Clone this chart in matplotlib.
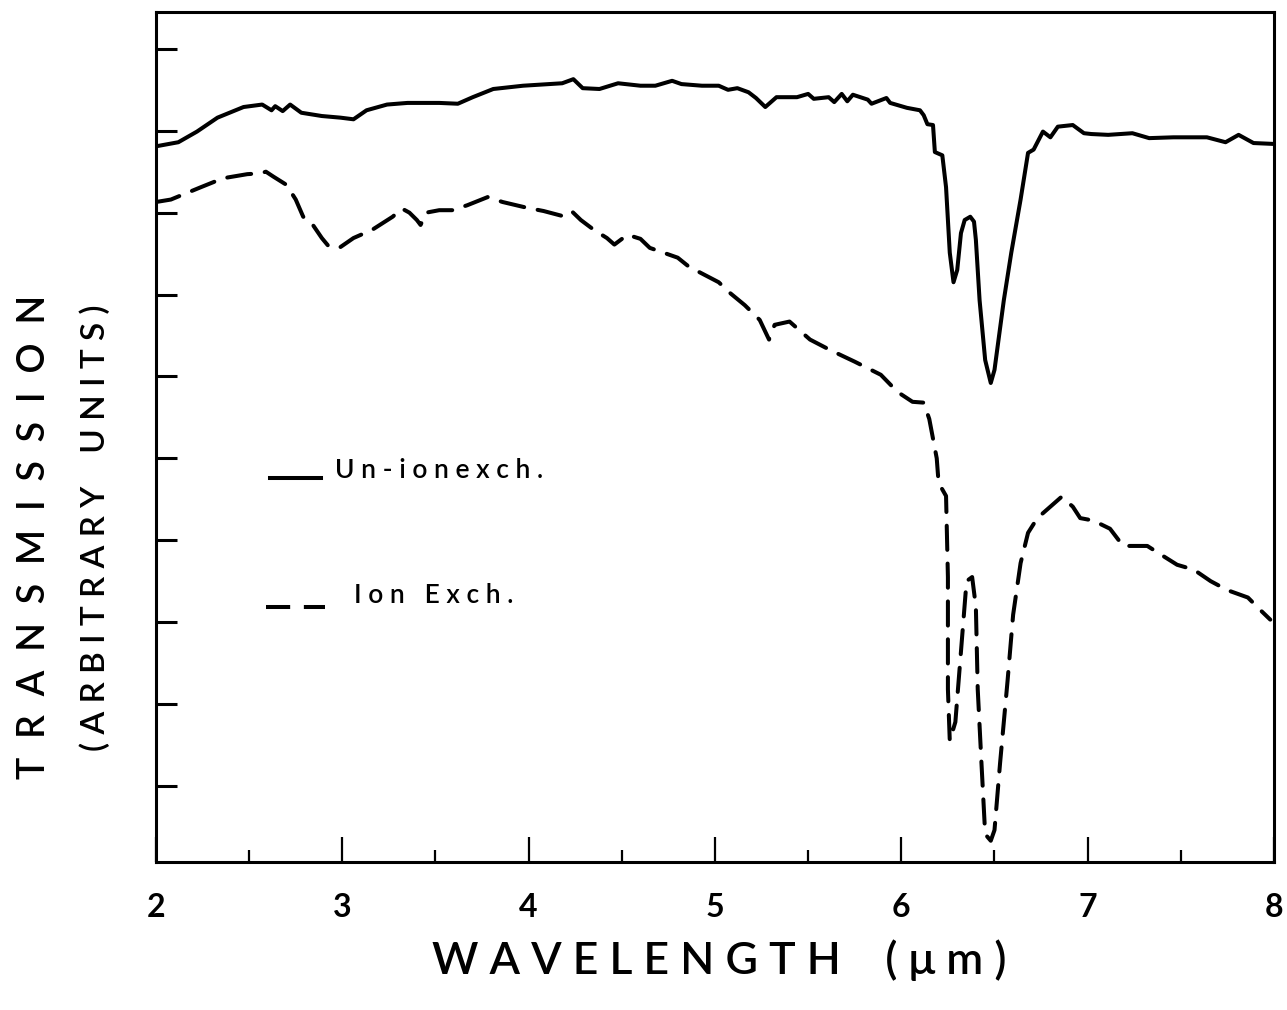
import numpy as np
import matplotlib.pyplot as plt

# wavelength (um) and transmission (arbitrary units)
wl_unex = [2.00, 2.12, 2.22, 2.33, 2.47, 2.57, 2.62, 2.64, 2.68, 2.72,
           2.78, 2.89, 2.99, 3.06, 3.13, 3.24, 3.35, 3.52, 3.62, 3.70,
           3.81, 3.97, 4.18, 4.24, 4.29, 4.38, 4.48, 4.60, 4.68, 4.77,
           4.82, 4.93, 5.02, 5.07, 5.12, 5.18, 5.22, 5.27, 5.33, 5.44,
           5.50, 5.53, 5.61, 5.64, 5.68, 5.71, 5.74, 5.82, 5.84, 5.92,
           5.94, 6.03, 6.10, 6.12, 6.14, 6.17, 6.18, 6.22, 6.24, 6.26,
           6.28, 6.30, 6.32, 6.34, 6.37, 6.39, 6.40, 6.42, 6.45, 6.48,
           6.50, 6.55, 6.59, 6.64, 6.68, 6.71, 6.76, 6.80, 6.84, 6.92,
           6.98, 7.02, 7.11, 7.24, 7.33, 7.46, 7.64, 7.74, 7.81, 7.89, 7.99]
tr_unex = [8.81, 8.86, 8.99, 9.16, 9.29, 9.32, 9.25, 9.30, 9.24, 9.32,
           9.22, 9.18, 9.16, 9.14, 9.25, 9.32, 9.34, 9.34, 9.33, 9.41,
           9.51, 9.55, 9.58, 9.63, 9.52, 9.51, 9.58, 9.55, 9.55, 9.61,
           9.57, 9.55, 9.55, 9.50, 9.52, 9.47, 9.40, 9.29, 9.41, 9.41,
           9.45, 9.39, 9.41, 9.35, 9.45, 9.36, 9.44, 9.38, 9.33, 9.40,
           9.34, 9.28, 9.25, 9.19, 9.08, 9.07, 8.74, 8.70, 8.31, 7.51,
           7.15, 7.30, 7.75, 7.91, 7.95, 7.89, 7.67, 6.93, 6.20, 5.92,
           6.08, 6.93, 7.51, 8.16, 8.73, 8.77, 8.99, 8.92, 9.05, 9.07,
           8.97, 8.96, 8.95, 8.97, 8.91, 8.92, 8.92, 8.86, 8.95, 8.85, 8.84]

wl_ionex = [2.00, 2.08, 2.24, 2.36, 2.49, 2.56, 2.59, 2.63, 2.70, 2.75,
            2.79, 2.83, 2.86, 2.89, 2.93, 2.99, 3.06, 3.16, 3.27, 3.32,
            3.36, 3.40, 3.42, 3.45, 3.52, 3.59, 3.67, 3.78, 3.86, 3.99,
            4.08, 4.18, 4.23, 4.28, 4.35, 4.42, 4.46, 4.53, 4.60, 4.65,
            4.80, 4.86, 5.02, 5.08, 5.16, 5.24, 5.29, 5.32, 5.40, 5.51,
            5.62, 5.75, 5.89, 5.98, 6.06, 6.12, 6.15, 6.19, 6.20, 6.24,
            6.25, 6.25, 6.26, 6.29, 6.32, 6.35, 6.38, 6.40, 6.41, 6.43,
            6.45, 6.48, 6.50, 6.53, 6.57, 6.60, 6.64, 6.68, 6.73, 6.80,
            6.86, 6.92, 6.96, 7.03, 7.12, 7.19, 7.32, 7.41, 7.48, 7.57,
            7.66, 7.75, 7.86, 7.93, 7.98]
tr_ionex = [8.13, 8.16, 8.31, 8.42, 8.47, 8.48, 8.50, 8.44, 8.34, 8.16,
            7.95, 7.89, 7.79, 7.69, 7.58, 7.58, 7.69, 7.79, 7.95, 8.05,
            8.00, 7.91, 7.85, 8.00, 8.03, 8.03, 8.09, 8.19, 8.13, 8.06,
            8.02, 7.96, 8.02, 7.91, 7.79, 7.69, 7.61, 7.73, 7.68, 7.57,
            7.45, 7.34, 7.15, 7.02, 6.87, 6.69, 6.45, 6.63, 6.67, 6.45,
            6.32, 6.18, 6.02, 5.81, 5.69, 5.68, 5.48, 5.00, 4.70, 4.54,
            3.55, 2.18, 1.55, 1.78, 2.64, 3.50, 3.55, 3.19, 2.18, 1.28,
            0.41, 0.33, 0.46, 1.28, 2.28, 3.09, 3.72, 4.09, 4.27, 4.41,
            4.53, 4.41, 4.27, 4.24, 4.14, 3.93, 3.93, 3.80, 3.70, 3.64,
            3.50, 3.39, 3.30, 3.14, 3.03]

xticks = [2, 3, 4, 5, 6, 7, 8]
xtick_labels = ["2", "3", "4", "5", "6", "7", "8"]
yticks = [1, 2, 3, 4, 5, 6, 7, 8, 9, 10]

plt.rcParams['font.family'] = ['Lato', 'DejaVu Sans']


def spaced(s, gap=" "):
    # poor man's letter spacing
    return gap.join(s)


fig = plt.figure(figsize=(12.87, 10.10), dpi=100)
ax = fig.add_axes([0.1212, 0.1465, 0.8687, 0.8416])

lw = 2.9
ax.plot(wl_unex, tr_unex, color="black", lw=lw, solid_joinstyle="round")
ax.plot(wl_ionex, tr_ionex, color="black", lw=lw, linestyle=(0, (6, 3.4)),
        dash_capstyle="round")

ax.set_xlim(2, 8)
ax.set_ylim(0.07, 10.45)

ax.set_xticks(xticks)
ax.set_xticklabels(xtick_labels, fontsize=23, fontweight="bold")
ax.set_xticks(np.arange(2.5, 8, 1.0), minor=True)
ax.set_yticks(yticks)
ax.set_yticklabels([])
ax.tick_params(axis="x", which="major", direction="in", length=18, width=1.6, pad=22)
ax.tick_params(axis="x", which="minor", direction="in", length=9, width=1.6)
ax.tick_params(axis="y", direction="in", length=15, width=2.2)
for s in ax.spines.values():
    s.set_linewidth(2.2)

# hand-drawn style key
ax.plot([0.102, 0.148], [0.452, 0.452], transform=ax.transAxes,
        color="black", lw=lw)
ax.plot([0.098, 0.151], [0.300, 0.300], transform=ax.transAxes,
        color="black", lw=lw, linestyle=(0, (6, 3.4)))
ax.text(0.160, 0.461, spaced("Un-ionexch."), transform=ax.transAxes,
        fontsize=19, fontweight=600, va="center", ha="left")
ax.text(0.177, 0.314, spaced("Ion") + "   " + spaced("Exch."),
        transform=ax.transAxes, fontsize=19, fontweight=600,
        va="center", ha="left")

fig.text(0.027, 0.468, spaced("TRANSMISSION", "  "), rotation=90,
         fontsize=27, fontweight=600, ha="center", va="center")
fig.text(0.074, 0.477, "( " + spaced("ARBITRARY") + "    "
         + spaced("UNITS") + " )", rotation=90,
         fontsize=24, fontweight=600, ha="center", va="center")
fig.text(0.559, 0.048, spaced("WAVELENGTH") + "    ( \u03bc m )",
         fontsize=32, fontweight=600, ha="center", va="center")

fig.savefig("out.png", dpi=100)
